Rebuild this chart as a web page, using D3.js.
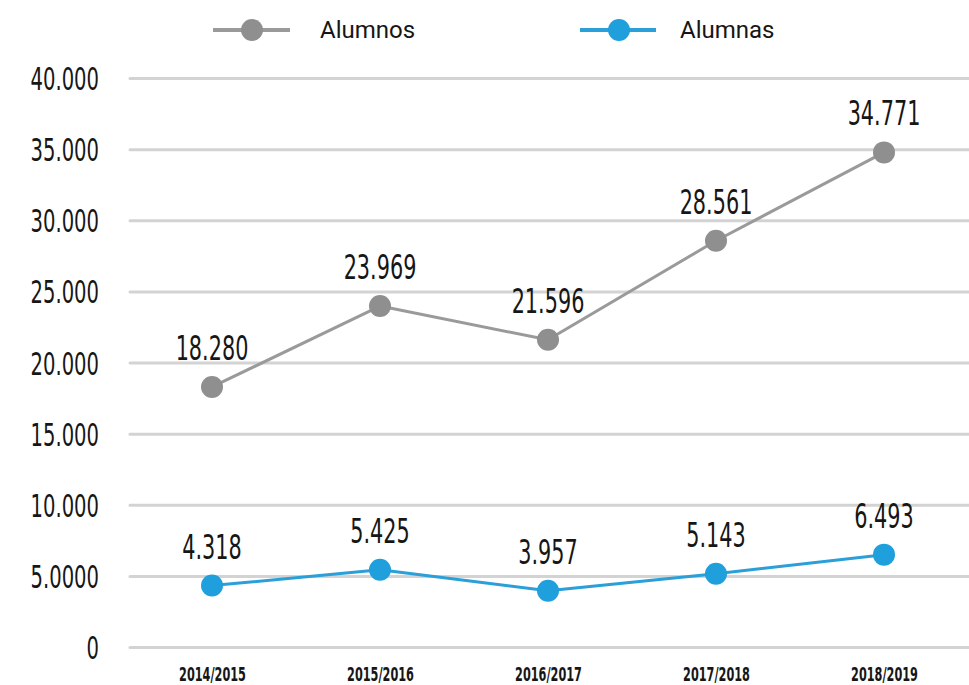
<!DOCTYPE html>
<html>
<head>
<meta charset="utf-8">
<script src="https://cdn.jsdelivr.net/npm/d3@7/dist/d3.min.js"></script>
<style>
  html, body { margin: 0; padding: 0; background: #ffffff; }
  svg { display: block; }
</style>
</head>
<body>
<div id="chart"></div>
<script>
// ---- data ----
const categories = ["2014/2015", "2015/2016", "2016/2017", "2017/2018", "2018/2019"];
const alumnos = [18280, 23969, 21596, 28561, 34771];
const alumnas = [4318, 5425, 3957, 5143, 6493];
const alumnosLabels = ["18.280", "23.969", "21.596", "28.561", "34.771"];
const alumnasLabels = ["4.318", "5.425", "3.957", "5.143", "6.493"];
const yTickValues = [0, 5000, 10000, 15000, 20000, 25000, 30000, 35000, 40000];
const yTickLabels = ["0", "5.0000", "10.000", "15.000", "20.000", "25.000", "30.000", "35.000", "40.000"];
const seriesNames = ["Alumnos", "Alumnas"];

// ---- layout ----
const W = 969, H = 685;
const gridLeft = 130, gridRight = 969;
const hand = "'DejaVu Sans Condensed', 'DejaVu Sans', sans-serif";
const grayLine = "#9a9a9a", grayDot = "#8f8f8f";
const blueLine = "#2a9fd8", blueDot = "#1f9fdc";
const textCol = "#161616";

const svg = d3.select("#chart").append("svg").attr("width", W).attr("height", H);

const x = d3.scalePoint().domain(categories).range([212, 884]);
const y = d3.scaleLinear().domain([0, 40000]).range([647, 78]);

// ---- grid + y axis ----
const yAxis = d3.axisLeft(y)
  .tickValues(yTickValues)
  .tickSize(-(gridRight - gridLeft))
  .tickFormat((d, i) => yTickLabels[i]);

const gy = svg.append("g").attr("transform", `translate(${gridLeft},0)`).call(yAxis);
gy.select(".domain").remove();
gy.selectAll(".tick line").attr("stroke", "#d3d3d3").attr("stroke-width", 3).attr("stroke-linecap", "round");
gy.selectAll(".tick text")
  .attr("x", 0).attr("dy", "0.36em")
  .attr("transform", "translate(-31,0) scale(0.68,1)")
  .attr("text-anchor", "end")
  .attr("fill", textCol)
  .style("font-family", hand).style("font-size", "32px");

// ---- x axis labels ----
const xAxis = d3.axisBottom(x).tickSize(0).tickPadding(0);
const gx = svg.append("g").attr("transform", "translate(0,674)").call(xAxis);
gx.select(".domain").remove();
gx.selectAll(".tick text")
  .attr("y", 0).attr("dy", "0.36em")
  .attr("transform", "scale(0.66,1)")
  .attr("text-anchor", "middle")
  .attr("fill", textCol)
  .style("font-family", hand).style("font-size", "19px").style("font-weight", "bold");

// ---- series ----
const series = [
  { name: seriesNames[0], values: alumnos, labels: alumnosLabels, line: grayLine, dot: grayDot },
  { name: seriesNames[1], values: alumnas, labels: alumnasLabels, line: blueLine, dot: blueDot }
];

const lineGen = d3.line().x((d, i) => x(categories[i])).y(d => y(d));

series.forEach(s => {
  const g = svg.append("g");
  g.append("path")
    .attr("d", lineGen(s.values))
    .attr("fill", "none")
    .attr("stroke", s.line)
    .attr("stroke-width", 3)
    .attr("stroke-linejoin", "round");
  g.selectAll("circle").data(s.values).join("circle")
    .attr("cx", (d, i) => x(categories[i]))
    .attr("cy", d => y(d))
    .attr("r", 11)
    .attr("fill", s.dot);
  g.selectAll("text").data(s.values).join("text")
    .attr("transform", (d, i) => `translate(${x(categories[i])},${y(d) - 27}) scale(0.68,1)`)
    .attr("text-anchor", "middle")
    .attr("fill", textCol)
    .style("font-family", hand).style("font-size", "34px")
    .text((d, i) => s.labels[i]);
});

// ---- legend ----
const legendItems = [
  { name: seriesNames[0], x0: 213, x1: 290, cx: 252, tx: 320, line: grayLine, dot: grayDot },
  { name: seriesNames[1], x0: 580, x1: 656, cx: 619, tx: 680, line: blueLine, dot: blueDot }
];
const lg = svg.append("g");
legendItems.forEach(it => {
  lg.append("line").attr("x1", it.x0).attr("x2", it.x1).attr("y1", 30).attr("y2", 30)
    .attr("stroke", it.line).attr("stroke-width", 4);
  lg.append("circle").attr("cx", it.cx).attr("cy", 30).attr("r", 11).attr("fill", it.dot);
  lg.append("text").attr("x", it.tx).attr("y", 30).attr("dy", "0.35em")
    .attr("fill", textCol)
    .style("font-family", "Roboto, 'Noto Sans', sans-serif").style("font-size", "24px")
    .text(it.name);
});
</script>
</body>
</html>
